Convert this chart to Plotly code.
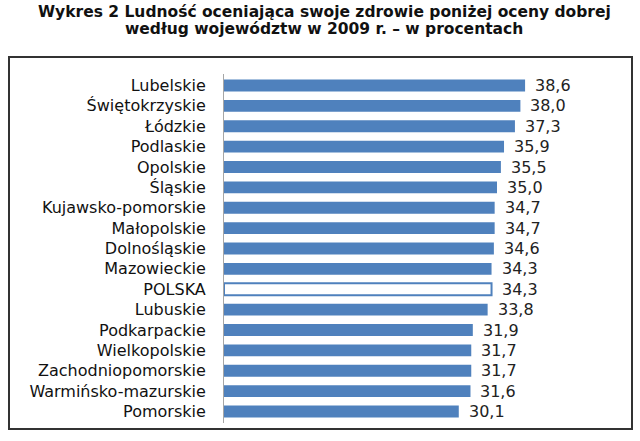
import plotly.graph_objects as go

regions = ["Lubelskie", "Świętokrzyskie", "Łódzkie", "Podlaskie", "Opolskie", "Śląskie",
           "Kujawsko-pomorskie", "Małopolskie", "Dolnośląskie", "Mazowieckie", "POLSKA",
           "Lubuskie", "Podkarpackie", "Wielkopolskie", "Zachodniopomorskie",
           "Warmińsko-mazurskie", "Pomorskie"]
values = [38.6, 38.0, 37.3, 35.9, 35.5, 35.0, 34.7, 34.7, 34.6, 34.3, 34.3,
          33.8, 31.9, 31.7, 31.7, 31.6, 30.1]
title_lines = ["Wykres 2 Ludność oceniająca swoje zdrowie poniżej oceny dobrej",
               "według województw w 2009 r. – w procentach"]

blue = "#4F81BD"
fills = ["white" if r == "POLSKA" else blue for r in regions]

W, H = 640, 441
ml, mr, mt, mb = 224, 26, 74, 18
pw, ph = W - ml - mr, H - mt - mb

def px_x(p):
    return (p - ml) / pw

def px_y(p):
    return (H - mb - p) / ph

fig = go.Figure(go.Bar(
    x=values, y=regions, orientation="h",
    marker=dict(color=fills, line=dict(color=blue, width=[2 if r == "POLSKA" else 0 for r in regions])),
    hoverinfo="skip",
))

annotations = [
    dict(text=line, xref="paper", yref="paper", x=px_x(324), y=px_y(yc),
         xanchor="center", yanchor="middle", showarrow=False,
         font=dict(family="DejaVu Sans", size=15.5, color="#111", weight="bold"))
    for line, yc in zip(title_lines, [12, 29.5])
]
annotations += [
    dict(text=f"{v:.1f}".replace(".", ","), x=v, y=r, xref="x", yref="y",
         xanchor="left", yanchor="middle", xshift=8, showarrow=False,
         font=dict(family="DejaVu Sans", size=16, color="#222"))
    for r, v in zip(regions, values)
]

fig.update_layout(
    width=W, height=H,
    margin=dict(l=ml, r=mr, t=mt, b=mb, autoexpand=False),
    paper_bgcolor="white", plot_bgcolor="white",
    bargap=0.42,
    showlegend=False,
    annotations=annotations,
    xaxis=dict(range=[0, 50], visible=False, fixedrange=True),
    yaxis=dict(autorange="reversed", showline=True, linecolor="#a6a6a6", linewidth=1,
               showgrid=False, ticks="outside", ticklen=14, tickcolor="rgba(0,0,0,0)",
               automargin=False,
               tickfont=dict(family="DejaVu Sans", size=16, color="#111"), fixedrange=True),
    shapes=[dict(type="rect", xref="paper", yref="paper",
                 x0=px_x(9), x1=px_x(632), y0=px_y(429), y1=px_y(57),
                 line=dict(color="#333", width=2), fillcolor="rgba(0,0,0,0)", layer="below")],
)

fig.write_html("out.html", config={"displayModeBar": False},
               post_script="document.body.style.margin='0';document.body.style.overflow='hidden';")
